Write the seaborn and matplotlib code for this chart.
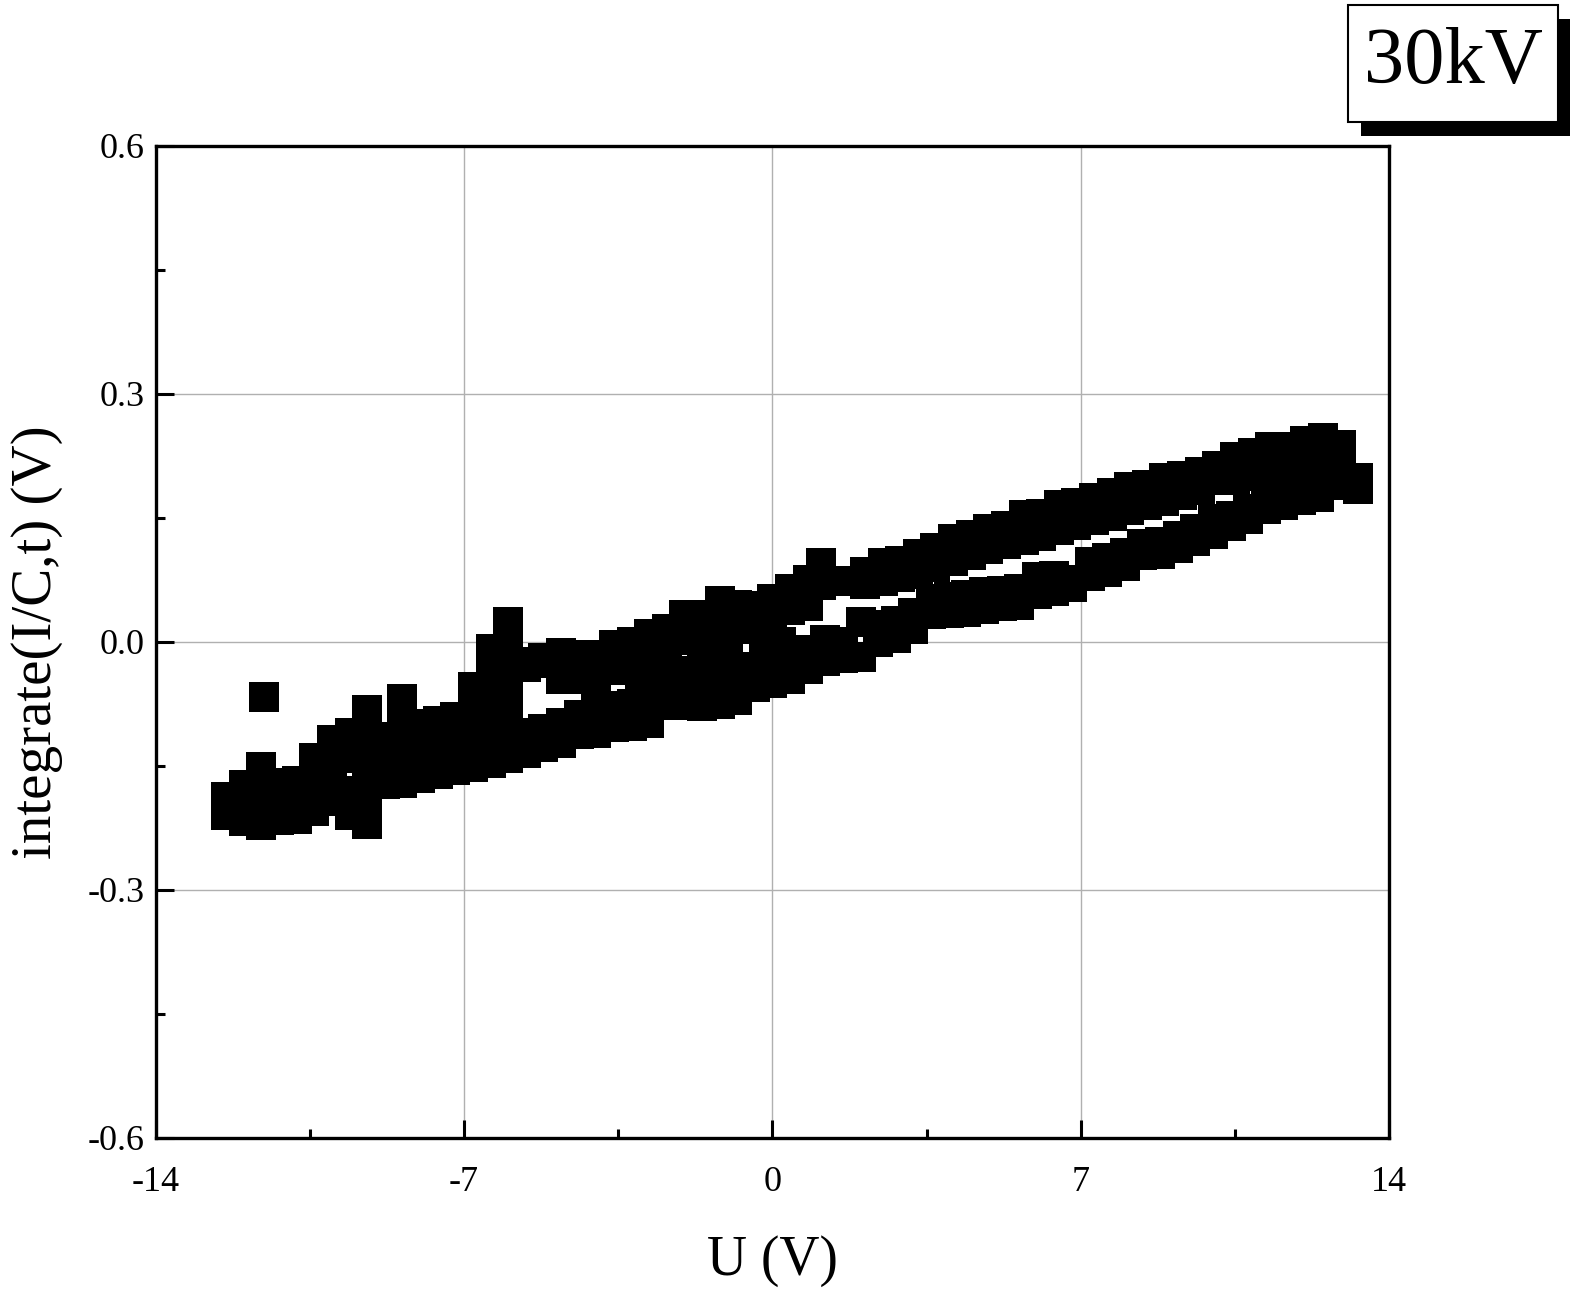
import numpy as np
import pandas as pd
import matplotlib
matplotlib.use("Agg")
import matplotlib.pyplot as plt
from matplotlib.patches import Rectangle
from matplotlib.ticker import MultipleLocator
import seaborn as sns

# upper branch of the loop (U going from + back to -), two rows of samples per step
u_upper = [13.3, 12.9, 12.5, 12.1, 11.7, 11.3, 10.9, 10.5, 10.1, 9.7, 9.3, 8.9, 8.5, 8.1,
           7.7, 7.3, 6.9, 6.5, 6.1, 5.7, 5.3, 4.9, 4.5, 4.1, 3.7, 3.3, 2.9, 2.5, 2.1, 1.7,
           1.1, 0.8, 0.4, 0.0, -0.4, -0.8, -1.2, -1.6, -2.0, -2.4, -2.8, -3.2, -3.6, -4.0,
           -4.4, -4.8, -5.2, -5.6, -6.0, -6.4, -6.8, -7.2, -7.6, -8.0, -8.4, -8.8, -9.2,
           -9.6, -10.0, -10.4, -10.8, -11.2, -11.6, -12.0, -12.4]
v_upper_hi = [0.198, 0.238, 0.247, 0.243, 0.236, 0.235, 0.228, 0.224, 0.212, 0.205, 0.200,
              0.198, 0.190, 0.187, 0.180, 0.174, 0.168, 0.165, 0.155, 0.153, 0.140, 0.137,
              0.129, 0.124, 0.114, 0.106, 0.098, 0.095, 0.085, 0.073, 0.095, 0.075, 0.064,
              0.052, 0.043, 0.045, 0.049, 0.033, 0.032, 0.015, 0.010, 0.000, -0.004, -0.016,
              -0.016, -0.013, -0.019, -0.024, 0.024, -0.009, -0.055, -0.091, -0.096, -0.100,
              -0.069, -0.115, -0.083, -0.110, -0.119, -0.140, -0.168, -0.171, -0.152, -0.173,
              -0.188]
v_upper_lo = [0.185, 0.212, 0.218, 0.215, 0.208, 0.205, 0.200, 0.196, 0.196, 0.184, 0.178,
              0.170, 0.166, 0.159, 0.152, 0.147, 0.141, 0.135, 0.128, 0.123, 0.118, 0.112,
              0.105, 0.098, 0.090, 0.082, 0.078, 0.074, 0.070, 0.073, 0.069, 0.043, 0.038,
              0.025, 0.018, 0.015, 0.020, 0.005, 0.002, -0.012, -0.020, -0.028, -0.034,
              -0.042, -0.045, -0.045, -0.026, -0.030, -0.010, -0.040, -0.085, -0.110, -0.118,
              -0.125, -0.100, -0.135, -0.115, -0.140, -0.150, -0.165, -0.190, -0.195, -0.180,
              -0.195, -0.200]

# lower branch of the loop (U going from - to +)
u_lower = [-12.4, -12.0, -11.6, -11.2, -10.8, -10.4, -10.0, -9.6, -9.2, -8.8, -8.4, -8.0,
           -7.6, -7.2, -6.8, -6.4, -6.0, -5.6, -5.2, -4.8, -4.4, -4.0, -3.6, -3.2, -2.8,
           -2.4, -2.0, -1.6, -1.2, -0.8, -0.4, 0.0, 0.4, 0.8, 1.2, 1.6, 2.0, 2.4, 2.8, 3.2,
           3.6, 4.0, 4.4, 4.8, 5.2, 5.6, 6.0, 6.4, 6.8, 7.2, 7.6, 8.0, 8.4, 8.8, 9.2, 9.6,
           10.0, 10.4, 10.8, 11.2, 11.6, 12.0, 12.4, 12.8]
v_lower_hi = [-0.195, -0.195, -0.200, -0.190, -0.185, -0.180, -0.170, -0.180, -0.150, -0.150,
              -0.150, -0.140, -0.135, -0.128, -0.125, -0.120, -0.115, -0.110, -0.105, -0.098,
              -0.088, -0.085, -0.078, -0.075, -0.072, -0.055, -0.050, -0.052, -0.048, -0.045,
              -0.030, -0.025, -0.020, -0.010, 0.002, 0.000, 0.024, 0.020, 0.025, 0.035,
              0.052, 0.054, 0.056, 0.060, 0.062, 0.064, 0.078, 0.080, 0.075, 0.096, 0.101,
              0.107, 0.118, 0.121, 0.128, 0.137, 0.148, 0.152, 0.160, 0.168, 0.177, 0.180,
              0.190, 0.205]
v_lower_lo = [-0.210, -0.217, -0.222, -0.215, -0.214, -0.205, -0.193, -0.210, -0.220, -0.172,
              -0.171, -0.165, -0.160, -0.155, -0.152, -0.146, -0.140, -0.134, -0.127, -0.122,
              -0.112, -0.110, -0.103, -0.102, -0.098, -0.077, -0.076, -0.078, -0.075, -0.070,
              -0.055, -0.050, -0.045, -0.033, -0.023, -0.020, -0.018, 0.000, 0.005, 0.015,
              0.034, 0.035, 0.036, 0.040, 0.043, 0.045, 0.058, 0.062, 0.066, 0.079, 0.085,
              0.092, 0.105, 0.106, 0.113, 0.122, 0.130, 0.140, 0.148, 0.160, 0.165, 0.171,
              0.175, 0.190]

# scattered samples between the branches and the stray point at the left end
u_extra = [-9.2, -8.4, -6.6, -6.6, -6.0, -6.0, -4.0, -3.0, -2.2, -1.6, -1.0, -0.2, 0.2, -11.55]
v_extra = [-0.185, -0.125, -0.075, -0.105, -0.045, -0.080, -0.062, -0.055, -0.035, -0.020,
           -0.015, -0.005, 0.000, -0.067]

df = pd.DataFrame({
    "U": u_upper + u_upper + u_lower + u_lower + u_extra,
    "Q": v_upper_hi + v_upper_lo + v_lower_hi + v_lower_lo + v_extra,
})

sns.set_theme(style="white")
plt.rcParams["font.family"] = ["Liberation Serif", "DejaVu Serif"]
plt.rcParams["axes.unicode_minus"] = False
for key in ["text.color", "axes.labelcolor", "xtick.color", "ytick.color"]:
    plt.rcParams[key] = "black"

fig = plt.figure(figsize=(15.75, 12.98), dpi=100)
ax = fig.add_axes([0.0989, 0.1233, 0.7831, 0.7645])

sns.scatterplot(data=df, x="U", y="Q", marker="s", color="black",
                s=470, linewidth=0, ax=ax, zorder=3)

ax.set_xlim(-14, 14)
ax.set_ylim(-0.6, 0.6)
ax.xaxis.set_major_locator(MultipleLocator(7))
ax.xaxis.set_minor_locator(MultipleLocator(3.5))
ax.yaxis.set_minor_locator(MultipleLocator(0.15))
ax.set_yticks([-0.6, -0.3, 0.0, 0.3, 0.6])
ax.set_yticklabels(["-0.6", "-0.3", "0.0", "0.3", "0.6"])

ax.grid(True, which="major", color="#b0b0b0", linewidth=1.0)
ax.set_axisbelow(True)

for sp in ax.spines.values():
    sp.set_linewidth(2.4)
    sp.set_color("black")

ax.tick_params(axis="both", which="both", direction="in", width=2.2,
               bottom=True, left=True, top=False, right=False)
ax.tick_params(axis="both", which="major", length=13, labelsize=26)
ax.tick_params(axis="both", which="minor", length=6.5)
ax.tick_params(axis="x", which="major", pad=20)
ax.tick_params(axis="y", which="major", pad=8)

ax.set_xlabel("U (V)", fontsize=40, labelpad=26)
ax.set_ylabel("integrate(I/C,t) (V)", fontsize=41, labelpad=18)

# "30kV" tag with drop shadow
fig.patches.append(Rectangle((0.864, 0.895), 0.133, 0.090, transform=fig.transFigure,
                             facecolor="black", edgecolor="none", zorder=1))
fig.patches.append(Rectangle((0.856, 0.906), 0.133, 0.090, transform=fig.transFigure,
                             facecolor="white", edgecolor="black", linewidth=1.5, zorder=2))
fig.text(0.9225, 0.951, "30kV", fontsize=58, ha="center", va="center", zorder=3)

fig.savefig("out.png", dpi=100)
